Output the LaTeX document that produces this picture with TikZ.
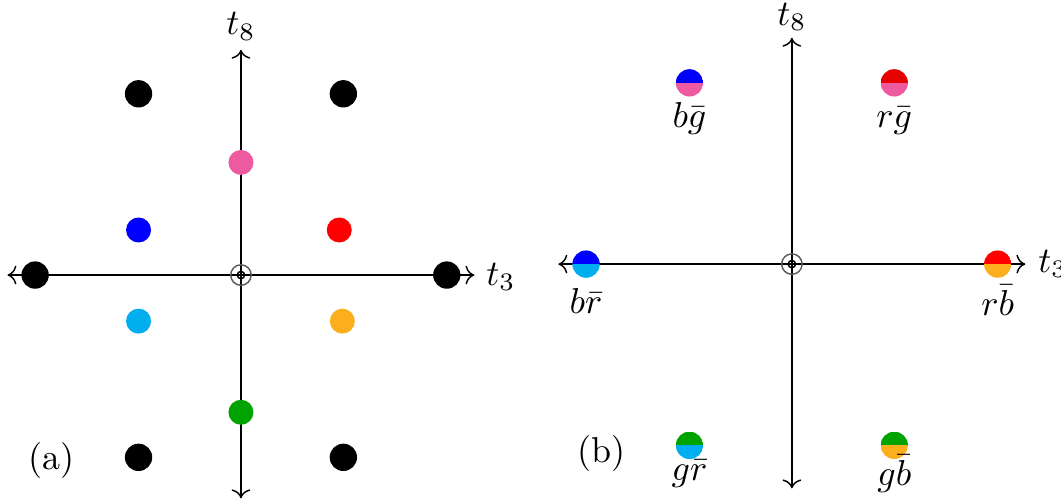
\documentclass[tikz,border=0pt]{standalone}
\usepackage{amsmath,amssymb}
\usepackage{tikz}
\usetikzlibrary{positioning, arrows.meta, shapes}
\usepackage{xcolor}
\definecolor{quarkred}{RGB}{255,0,0}
\definecolor{quarkdarkred}{RGB}{230,0,0}
\definecolor{quarkblue}{RGB}{0,0,255}
\definecolor{quarkgreen}{RGB}{0,163,0}
\definecolor{antired}{RGB}{0,174,239}
\definecolor{antigreen}{RGB}{238,90,160}
\definecolor{antiblue}{RGB}{252,175,30}
\definecolor{origingray}{RGB}{90,90,90}

\begin{document}
\begin{tikzpicture}[node distance=0.15cm,
    bigdot/.style={circle, fill=black, inner sep=0pt, minimum size=0.267cm},
    coldot/.style={circle, fill=#1, inner sep=0pt, minimum size=0.244cm},
    halfdot/.style 2 args={circle, inner sep=0pt, minimum size=0.267cm,
      path picture={\fill[#1] (path picture bounding box.north west) rectangle (path picture bounding box.east);
                    \fill[#2] (path picture bounding box.west) rectangle (path picture bounding box.south east);}},
    axisline/.style={<->},
    dotlabel/.style={anchor=base, inner sep=0pt}]
        \useasboundingbox (-2.353,-2.207) rectangle (8.008,2.686);
        % (a) octet
        \coordinate (a-o) at (0,0);
        \coordinate (a-w) at (-2.28,0);
        \coordinate (a-e) at (2.28,0);
        \coordinate (a-s) at (0,-2.18);
        \coordinate (a-n) at (0,2.2);
        \draw[axisline] (a-w) -- (a-e);
        \draw[axisline] (a-s) -- (a-n);
        \node[below right=0.1cm and 0.11cm of a-e, anchor=base west, inner sep=0pt] (a-t3) {$t_3$};
        \node[above=0.146cm of a-n, anchor=base, inner sep=0pt] (a-t8) {$t_8$};
        \draw[origingray] (a-o) circle (0.1cm);
        \draw (a-o) circle (0.036cm);
        \node[bigdot] (a-k1) at (-1,1.77) {};
        \node[bigdot] (a-k2) at (1,1.77) {};
        \node[bigdot] (a-k3) at (-2.01,0) {};
        \node[bigdot] (a-k4) at (2.01,0) {};
        \node[bigdot] (a-k5) at (-1,-1.78) {};
        \node[bigdot] (a-k6) at (1,-1.78) {};
        \node[coldot=antigreen] (a-pink) at (0,1.10) {};
        \node[coldot=quarkblue] (a-blue) at (-1,0.44) {};
        \node[coldot=quarkred] (a-red) at (0.96,0.44) {};
        \node[coldot=antired] (a-cyan) at (-1,-0.45) {};
        \node[coldot=antiblue] (a-orange) at (0.99,-0.45) {};
        \node[coldot=quarkgreen] (a-green) at (0,-1.34) {};
        \node (a-tag) at (-1.85,-1.81) {(a)};
        % (b) gluons
        \begin{scope}[xshift=5.38cm, yshift=0.107cm]
        \coordinate (b-o) at (0,0);
        \coordinate (b-w) at (-2.28,0);
        \coordinate (b-e) at (2.28,0);
        \coordinate (b-s) at (0,-2.19);
        \coordinate (b-n) at (0,2.21);
        \draw[axisline] (b-w) -- (b-e);
        \draw[axisline] (b-s) -- (b-n);
        \node[below right=0.08cm and 0.12cm of b-e, anchor=base west, inner sep=0pt] (b-t3) {$t_3$};
        \node[above=0.12cm of b-n, anchor=base, inner sep=0pt] (b-t8) {$t_8$};
        \draw[origingray] (b-o) circle (0.1cm);
        \draw (b-o) circle (0.036cm);
        \node[halfdot={quarkblue}{antigreen}] (bg) at (-1,1.77) {};
        \node[halfdot={quarkdarkred}{antigreen}] (rg) at (1,1.77) {};
        \node[halfdot={quarkblue}{antired}] (br) at (-2.01,0) {};
        \node[halfdot={quarkred}{antiblue}] (rb) at (2.01,0) {};
        \node[halfdot={quarkgreen}{antired}] (gr) at (-1,-1.77) {};
        \node[halfdot={quarkgreen}{antiblue}] (gb) at (1,-1.77) {};
        \node[below=0.44cm of bg.center, dotlabel] (bg-l) {$b\bar{g}$};
        \node[below=0.44cm of rg.center, dotlabel] (rg-l) {$r\bar{g}$};
        \node[below=0.48cm of br.center, dotlabel] (br-l) {$b\bar{r}$};
        \node[below=0.5cm of rb.center, dotlabel] (rb-l) {$r\bar{b}$};
        \node[below=0.34cm of gr.center, dotlabel] (gr-l) {$g\bar{r}$};
        \node[below=0.39cm of gb.center, dotlabel] (gb-l) {$g\bar{b}$};
        \node (b-tag) at (-1.855,-1.85) {(b)};
        \end{scope}
      \end{tikzpicture}
\end{document}
